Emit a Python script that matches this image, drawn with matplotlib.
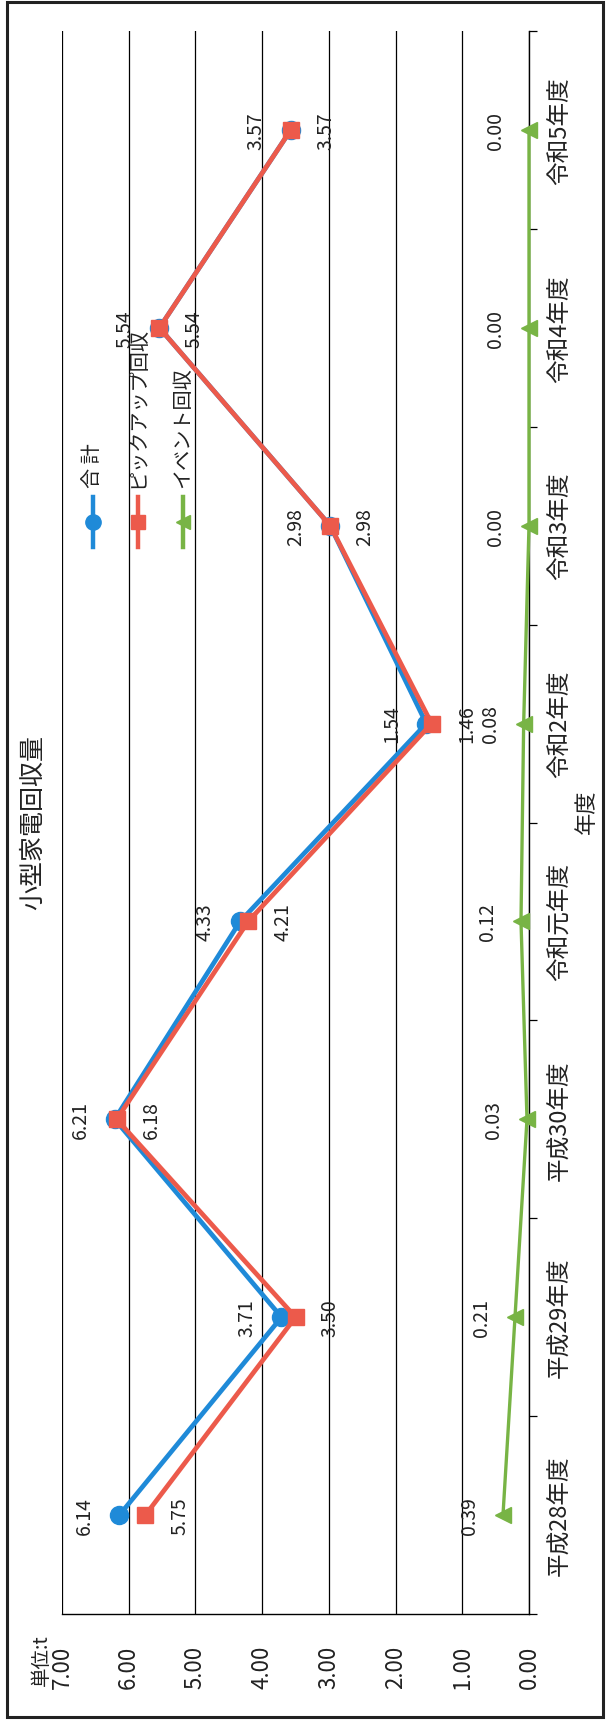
import matplotlib
matplotlib.use("Agg")
import matplotlib.pyplot as plt
from matplotlib.lines import Line2D
from matplotlib.patches import Rectangle
import numpy as np

plt.rcParams['font.family'] = ['Noto Sans CJK JP', 'DejaVu Sans']

# data
years = ['平成28年度', '平成29年度', '平成30年度', '令和元年度',
         '令和2年度', '令和3年度', '令和4年度', '令和5年度']
total = [6.14, 3.71, 6.21, 4.33, 1.54, 2.98, 5.54, 3.57]
pickup = [5.75, 3.50, 6.18, 4.21, 1.46, 2.98, 5.54, 3.57]
event = [0.39, 0.21, 0.03, 0.12, 0.08, 0.00, 0.00, 0.00]
value_ticks = [0, 1, 2, 3, 4, 5, 6, 7]

BLUE = '#1f8ad8'
RED = '#ec5a4b'
GREEN = '#78b445'

W, H = 606, 1724
fig = plt.figure(figsize=(W / 100, H / 100), dpi=100)

# chart is printed rotated 90 deg: values run right->left, years bottom->top
ax = fig.add_axes([62 / W, 1 - 1615 / H, (529 - 62) / W, (1615 - 32) / H])
pos = np.arange(len(years))

ax.plot(total, pos, color=BLUE, lw=3.4, marker='o', ms=13, clip_on=False, zorder=3)
ax.plot(pickup, pos, color=RED, lw=3.4, marker='s', ms=11, clip_on=False, zorder=4)
ax.plot(event, pos, color=GREEN, lw=2.4, marker='<', ms=11, clip_on=False, zorder=5)

lab_kw = dict(textcoords='offset points', rotation=90, ha='center', va='center',
              fontsize=14, color='#222222', zorder=6)
for i in pos:
    ax.annotate(f'{total[i]:.2f}', (total[i], i), xytext=(-25, 0), **lab_kw)
    ax.annotate(f'{pickup[i]:.2f}', (pickup[i], i), xytext=(25, 0), **lab_kw)
    ax.annotate(f'{event[i]:.2f}', (event[i], i), xytext=(-24, 0), **lab_kw)

ax.set_xlim(7, 0)
ax.set_ylim(-0.5, len(years) - 0.5)

ax.set_xticks(value_ticks)
ax.set_xticklabels([f'{v:.2f}' for v in value_ticks], rotation=90, fontsize=16)
ax.tick_params(axis='x', length=0, pad=22, colors='#222222')
ax.grid(axis='x', color='black', lw=0.9)
ax.set_axisbelow(True)

ax.yaxis.tick_right()
ax.set_yticks(pos)
ax.set_yticklabels(years, rotation=90, va='center', fontsize=17)
ax.set_yticks(np.arange(-0.5, len(years), 1.0), minor=True)
ax.tick_params(axis='y', which='major', length=0, pad=14, colors='#222222')
ax.tick_params(axis='y', which='minor', length=6, width=0.9, direction='out',
               color='black')

for side in ['top', 'left']:
    ax.spines[side].set_visible(False)
ax.spines['right'].set_color('black')
ax.spines['right'].set_linewidth(1.0)
ax.spines['bottom'].set_color('black')
ax.spines['bottom'].set_linewidth(1.0)

# title, axis label, unit
fig.text(33 / W, 1 - 823 / H, '小型家電回収量', rotation=90, ha='center',
         va='center', fontsize=18, color='#222222')
fig.text(586 / W, 1 - 812 / H, '年度', rotation=90, ha='center', va='center',
         fontsize=16, color='#222222')
fig.text(41 / W, 1 - 1686 / H, '単位:t', rotation=90, ha='center', va='bottom',
         fontsize=14, color='#222222')

# legend, drawn by hand because it is rotated too
legend_items = [('合 計', BLUE, 'o', 11, 93),
                ('ピックアップ回収', RED, 's', 10, 138),
                ('イベント回収', GREEN, '<', 10, 183)]
for name, col, mk, size, xp in legend_items:
    fig.add_artist(Line2D([xp / W, xp / W], [1 - 548 / H, 1 - 498 / H],
                          color=col, lw=3.2))
    fig.add_artist(Line2D([xp / W], [1 - 523 / H], color=col, marker=mk,
                          ms=size, lw=0))
    fig.text(xp / W, 1 - 488 / H, name, rotation=90, ha='center', va='bottom',
             fontsize=14.5, color='#222222')

# outer frame of the scan
fig.add_artist(Rectangle((7 / W, 1 - 1718 / H), 596 / W, 1715 / H,
                         transform=fig.transFigure, fill=False,
                         edgecolor='#222222', lw=2.2))

fig.savefig('out.png', dpi=100)
print('Saved: out.png')
